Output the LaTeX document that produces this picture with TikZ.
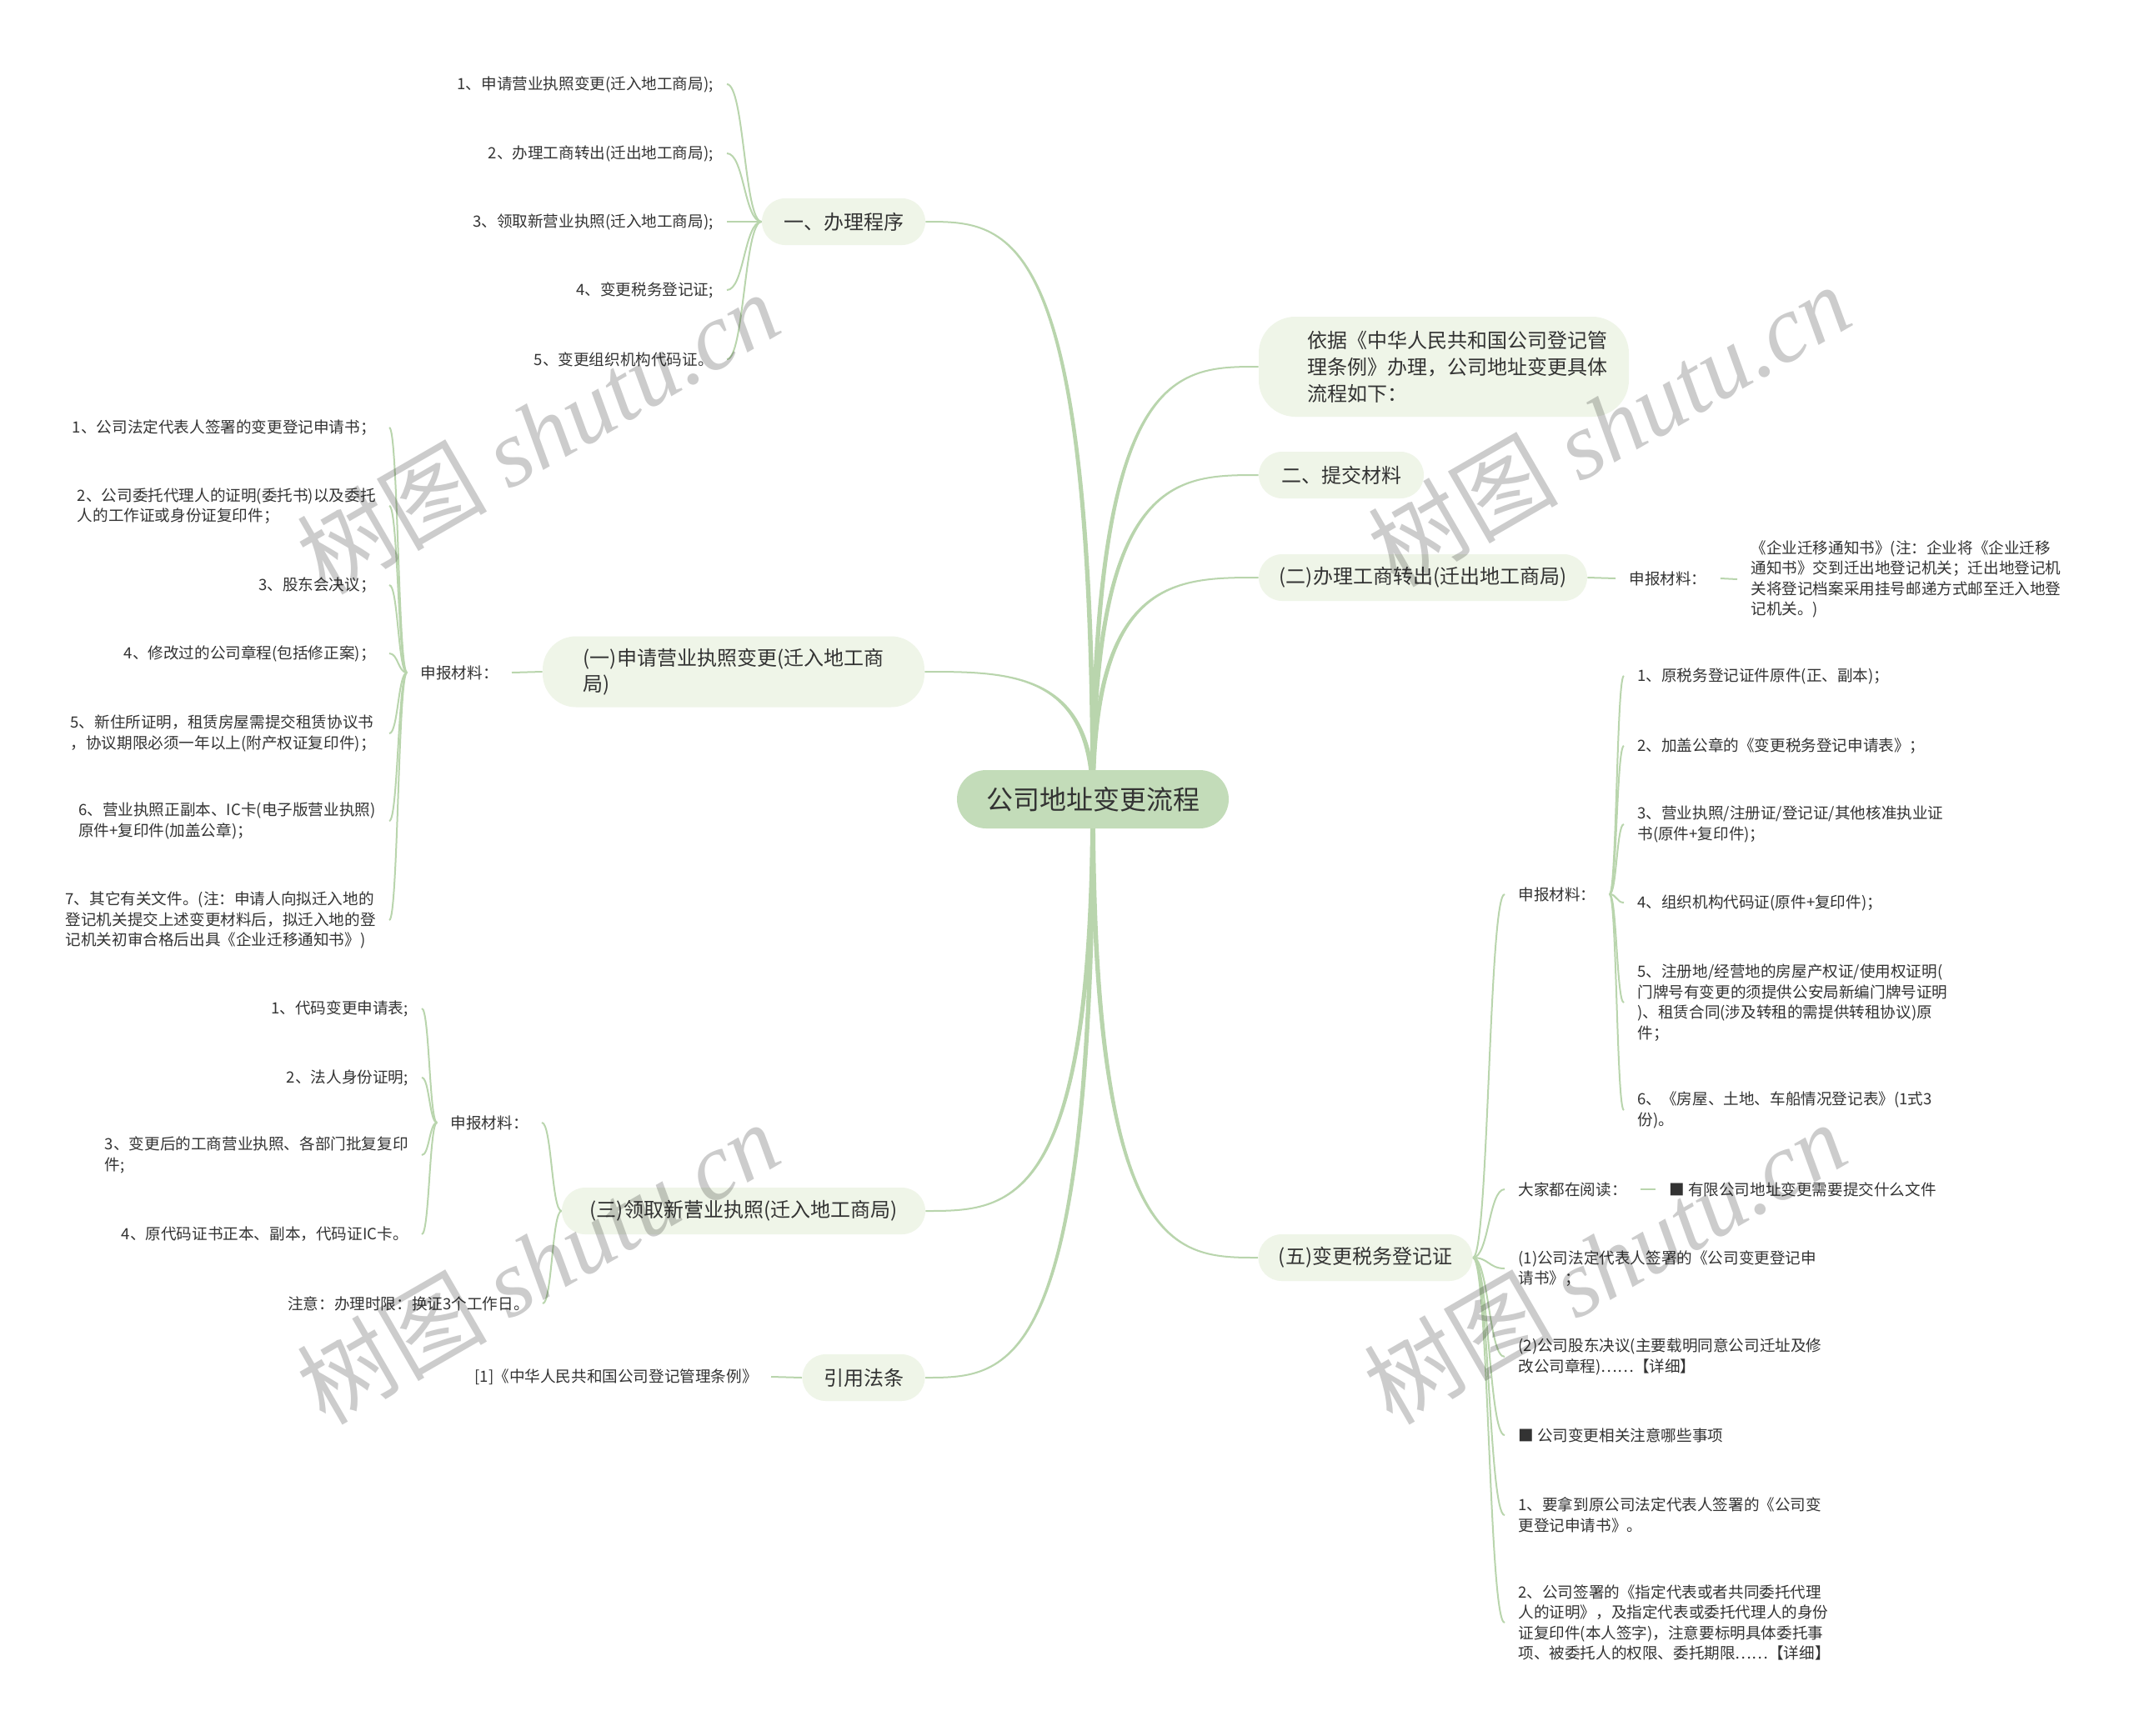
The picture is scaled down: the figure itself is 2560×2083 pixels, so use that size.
\documentclass[tikz,border=0pt]{standalone}
\usepackage{fontspec}
\setmainfont{Noto Sans CJK SC}
\newfontfamily\wmserif{Liberation Serif}
\usetikzlibrary{backgrounds,calc}
\definecolor{lineg}{HTML}{B9D5AD}
\definecolor{rootg}{HTML}{C3DCB9}
\definecolor{brg}{HTML}{EFF5E8}
\definecolor{txt}{HTML}{333333}
\newcommand\sconn[2]{\draw[subln] let \p1=(#1), \p2=(#2) in (\p1) .. controls ({0.5*\x1+0.5*\x2},\y1) and ({0.5*\x1+0.5*\x2},\y2) .. (\p2);}
\newcommand\rconn[2]{\fill[lineg] let \p1=(#1), \p2=(#2), \n1={sign(\x2-\x1)*sign(\y2-\y1)} in
 ({\x1-1.4pt},\y1) .. controls ({\x1-1.4pt},{\y2+\n1*0.5pt}) and ({0.5*\x1+0.5*\x2},{\y2+\n1*0.5pt}) .. (\x2,{\y2+\n1*0.5pt})
 -- (\x2,{\y2-\n1*0.5pt}) .. controls ({0.5*\x1+0.5*\x2},{\y2-\n1*0.5pt}) and ({\x1+1.4pt},{\y2-\n1*0.5pt}) .. ({\x1+1.4pt},\y1) -- cycle;}
\begin{document}
\begin{tikzpicture}[x=0.5pt,y=-0.5pt,
 rootbox/.style={fill=rootg, rounded corners=17.5pt, minimum width=163pt, minimum height=35pt, inner sep=0pt, text=txt, font=\fontsize{16}{20}\selectfont},
 brbox/.style={fill=brg, rounded corners=14pt, minimum height=28pt, inner sep=0pt, text=txt, font=\fontsize{12}{16}\selectfont, align=left},
 brtext/.style={inner sep=0pt, text=txt, font=\fontsize{12}{16}\selectfont, align=left},
 leaf/.style={inner xsep=8pt, inner ysep=2pt, text=txt, font=\fontsize{9.3}{12.25}\selectfont, align=left},
 subln/.style={draw=lineg, line width=1pt},
 wm/.style={text=black, text opacity=0.2, rotate=30, inner sep=0pt, font=\fontsize{57}{60}\selectfont}
]
\useasboundingbox (0,0) rectangle (2560,2083);

% root and branches
\node[rootbox] (root) at (1311,959) {公司地址变更流程};
\node[brbox, minimum width=98pt] (b1) at (1012,266) {一、办理程序};
\node[brbox, minimum width=222pt, minimum height=60pt, rounded corners=22pt] (b2) at (1732,440) {};
\node[brtext] (b2t) at (1748,440) {依据《中华人民共和国公司登记管\\理条例》办理，公司地址变更具体\\流程如下：};
\node[brbox, minimum width=99pt] (b3) at (1609,570) {二、提交材料};
\node[brbox, minimum width=197pt] (b4) at (1707,693) {(二)办理工商转出(迁出地工商局)};
\node[brbox, minimum width=229pt, minimum height=42.5pt, rounded corners=20pt, font=\fontsize{12}{15.5}\selectfont] (b5) at (880,806) {(一)申请营业执照变更(迁入地工商\\局)};
\node[brbox, minimum width=218pt] (b6) at (892,1453) {(三)领取新营业执照(迁入地工商局)};
\node[brbox, minimum width=73.5pt] (b7) at (1036,1653) {引用法条};
\node[brbox, minimum width=128.5pt] (b8) at (1638,1509) {(五)变更税务登记证};

% group A
\node[leaf, anchor=east] (a1) at (872,101) {1、申请营业执照变更(迁入地工商局);};
\node[leaf, anchor=east] (a2) at (872,184) {2、办理工商转出(迁出地工商局);};
\node[leaf, anchor=east] (a3) at (872,266) {3、领取新营业执照(迁入地工商局);};
\node[leaf, anchor=east] (a4) at (872,348) {4、变更税务登记证;};
\node[leaf, anchor=east] (a5) at (872,431) {5、变更组织机构代码证。};

% group B
\node[leaf, anchor=east] (l1) at (614,807) {申报材料：};
\node[leaf, anchor=east] (c1) at (467,513) {1、公司法定代表人签署的变更登记申请书；};
\node[leaf, anchor=east] (c2) at (467,607) {2、公司委托代理人的证明(委托书)以及委托\\人的工作证或身份证复印件；};
\node[leaf, anchor=east] (c3) at (467,702) {3、股东会决议；};
\node[leaf, anchor=east] (c4) at (467,784) {4、修改过的公司章程(包括修正案)；};
\node[leaf, anchor=east] (c5) at (467,880) {5、新住所证明，租赁房屋需提交租赁协议书\\，协议期限必须一年以上(附产权证复印件)；};
\node[leaf, anchor=east] (c6) at (467,985) {6、营业执照正副本、IC卡(电子版营业执照)\\原件+复印件(加盖公章)；};
\node[leaf, anchor=east] (c7) at (467,1104) {7、其它有关文件。(注：申请人向拟迁入地的\\登记机关提交上述变更材料后，拟迁入地的登\\记机关初审合格后出具《企业迁移通知书》)};

% group C
\node[leaf, anchor=east] (l2) at (650,1347) {申报材料：};
\node[leaf, anchor=east] (nt) at (651,1564) {注意：办理时限：换证3个工作日。};
\node[leaf, anchor=east] (d1) at (506,1210) {1、代码变更申请表;};
\node[leaf, anchor=east] (d2) at (506,1293) {2、法人身份证明;};
\node[leaf, anchor=east] (d3) at (506,1386) {3、变更后的工商营业执照、各部门批复复印\\件;};
\node[leaf, anchor=east] (d4) at (506,1481) {4、原代码证书正本、副本，代码证IC卡。};

% group D
\node[leaf, anchor=east] (rf) at (925,1652) {[1]《中华人民共和国公司登记管理条例》};

% group E
\node[leaf, anchor=west] (l3) at (1938,694) {申报材料：};
\node[leaf, anchor=west] (tz) at (2084,695) {《企业迁移通知书》(注：企业将《企业迁移\\通知书》交到迁出地登记机关；迁出地登记机\\关将登记档案采用挂号邮递方式邮至迁入地登\\记机关。)};

% group F
\node[leaf, anchor=west] (l4) at (1805,1073) {申报材料：};
\node[leaf, anchor=west] (rd) at (1805,1427) {大家都在阅读：};
\node[leaf, anchor=west] (rdl) at (1986,1427) {■ 有限公司地址变更需要提交什么文件};
\node[leaf, anchor=west] (f1) at (1805,1522) {(1)公司法定代表人签署的《公司变更登记申\\请书》；};
\node[leaf, anchor=west] (f2) at (1805,1628) {(2)公司股东决议(主要载明同意公司迁址及修\\改公司章程)……【详细】};
\node[leaf, anchor=west] (f3) at (1805,1722) {■ 公司变更相关注意哪些事项};
\node[leaf, anchor=west] (f4) at (1805,1818) {1、要拿到原公司法定代表人签署的《公司变\\更登记申请书》。};
\node[leaf, anchor=west] (f5) at (1805,1947) {2、公司签署的《指定代表或者共同委托代理\\人的证明》，及指定代表或委托代理人的身份\\证复印件(本人签字)，注意要标明具体委托事\\项、被委托人的权限、委托期限……【详细】};
\node[leaf, anchor=west] (g1) at (1948,811) {1、原税务登记证件原件(正、副本)；};
\node[leaf, anchor=west] (g2) at (1948,895) {2、加盖公章的《变更税务登记申请表》；};
\node[leaf, anchor=west] (g3) at (1948,989) {3、营业执照/注册证/登记证/其他核准执业证\\书(原件+复印件)；};
\node[leaf, anchor=west] (g4) at (1948,1083) {4、组织机构代码证(原件+复印件)；};
\node[leaf, anchor=west] (g5) at (1948,1203) {5、注册地/经营地的房屋产权证/使用权证明(\\门牌号有变更的须提供公安局新编门牌号证明\\)、租赁合同(涉及转租的需提供转租协议)原\\件；};
\node[leaf, anchor=west] (g6) at (1948,1332) {6、《房屋、土地、车船情况登记表》(1式3\\份)。};

\begin{pgfonlayer}{background}
\fill[white] (0,0) rectangle (2560,2083);
\rconn{root.center}{b1.east}
\rconn{root.center}{b5.east}
\rconn{root.center}{b6.east}
\rconn{root.center}{b7.east}
\rconn{root.center}{b2.west}
\rconn{root.center}{b3.west}
\rconn{root.center}{b4.west}
\rconn{root.center}{b8.west}
\foreach \q in {a1,a2,a3,a4,a5}{\sconn{b1.west}{\q.east}}
\sconn{b5.west}{l1.east}
\foreach \q in {c1,c2,c3,c4,c5,c6,c7}{\sconn{l1.west}{\q.east}}
\sconn{b6.west}{l2.east}
\sconn{b6.west}{nt.east}
\foreach \q in {d1,d2,d3,d4}{\sconn{l2.west}{\q.east}}
\sconn{b7.west}{rf.east}
\sconn{b4.east}{l3.west}
\sconn{l3.east}{tz.west}
\foreach \q in {l4,rd,f1,f2,f3,f4,f5}{\sconn{b8.east}{\q.west}}
\foreach \q in {g1,g2,g3,g4,g5,g6}{\sconn{l4.east}{\q.west}}
\sconn{rd.east}{rdl.west}
\end{pgfonlayer}

% watermarks
\node[wm] (w1) at (645,519) {树图 {\wmserif\itshape shutu.cn}};
\node[wm] (w2) at (1930,510) {树图 {\wmserif\itshape shutu.cn}};
\node[wm] (w3) at (645,1515) {树图 {\wmserif\itshape shutu.cn}};
\node[wm] (w4) at (1925,1515) {树图 {\wmserif\itshape shutu.cn}};
\end{tikzpicture}
\end{document}
